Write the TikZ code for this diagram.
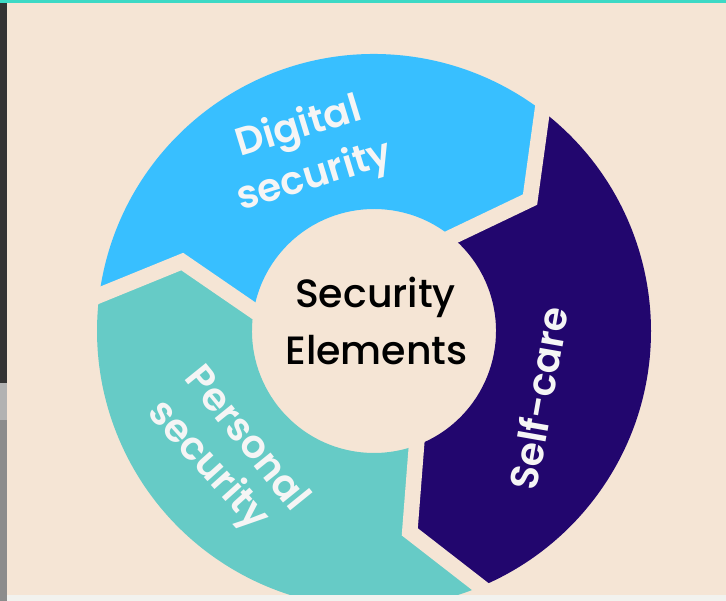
\documentclass[tikz,border=0pt]{standalone}
\usepackage{fontspec}
\setmainfont{Poppins}[BoldFont={* SemiBold}]
\newfontfamily\medfont{Poppins}[UprightFont={* Medium}]
\usetikzlibrary{calc}
\definecolor{bgc}{HTML}{F5E5D5}
\definecolor{bluec}{HTML}{38BFFF}
\definecolor{tealc}{HTML}{66CBC6}
\definecolor{purplec}{HTML}{22066E}
\definecolor{wtext}{HTML}{F5F5F5}
\definecolor{topc}{HTML}{3DD9C5}
\definecolor{stripc}{HTML}{343434}
\definecolor{botc}{HTML}{F2F2EE}
\tikzset{
  seglabel/.style={text=wtext, font=\fontsize{39}{39}\selectfont\bfseries, anchor=base, inner sep=0pt},
  centerlabel/.style={text=black, font=\fontsize{39.5}{39.5}\selectfont\medfont, anchor=base, inner sep=0pt},
  gapline/.style={draw=bgc, line width=15.5pt, line join=miter}
}
\begin{document}
\begin{tikzpicture}[x=1pt,y=1pt]
\useasboundingbox (0,0) rectangle (726,601);
\clip (0,0) rectangle (726,601);
\fill[bgc] (0,0) rectangle (726,601);
\begin{scope}[shift={(374,270)}]
  % boundary points
  \coordinate (o1) at (52.6:277pt);  \coordinate (v1) at (40.1:204pt);  \coordinate (i1) at (50.4:122pt);
  \coordinate (o2) at (-67.4:277pt); \coordinate (v2) at (-79.9:204pt); \coordinate (i2) at (-69.6:122pt);
  \coordinate (o3) at (172.6:277pt); \coordinate (v3) at (160.1:204pt); \coordinate (i3) at (170.4:122pt);
  % digital security (blue)
  \fill[bluec] (o3) arc[start angle=172.6, end angle=52.6, radius=277pt] -- (v1) -- (i1)
     arc[start angle=50.4, end angle=170.4, radius=122pt] -- (v3) -- cycle;
  % self-care (purple)
  \fill[purplec] (o1) arc[start angle=52.6, end angle=-67.4, radius=277pt] -- (v2) -- (i2)
     arc[start angle=-69.6, end angle=50.4, radius=122pt] -- (v1) -- cycle;
  % personal security (teal)
  \fill[tealc] (o2) arc[start angle=-67.4, end angle=-187.4, radius=277pt] -- (v3) -- (i3)
     arc[start angle=-189.6, end angle=-69.6, radius=122pt] -- (v2) -- cycle;
  % gaps
  \draw[gapline] ($(v1)!1.4!(o1)$) -- (v1) -- ($(v1)!1.4!(i1)$);
  \draw[gapline] ($(v2)!1.4!(o2)$) -- (v2) -- ($(v2)!1.4!(i2)$);
  \draw[gapline] ($(v3)!1.4!(o3)$) -- (v3) -- ($(v3)!1.4!(i3)$);
\end{scope}
% labels
\node[seglabel, rotate=17] (dig) at (302,463) {Digital};
\node[seglabel, rotate=17] (dsec) at (318,414) {security};
\node[seglabel, rotate=80] (self) at (553,200) {Self-care};
\node[seglabel, rotate=-51] (pers) at (238,155) {Personal};
\node[seglabel, rotate=-48] (psec) at (200,128) {security};
\node[centerlabel] (c1) at (375.5,293) {Security};
\node[centerlabel] (c2) at (376.5,236) {Elements};
% screenshot edges
\fill[topc] (0,598) rectangle (726,601);
\fill[stripc] (0,0) rectangle (7,598);
\fill[gray!60] (0,181) rectangle (7,218);
\fill[gray!90] (0,0) rectangle (7,181);
\fill[botc] (7,0) rectangle (726,6);
\end{tikzpicture}
\end{document}
